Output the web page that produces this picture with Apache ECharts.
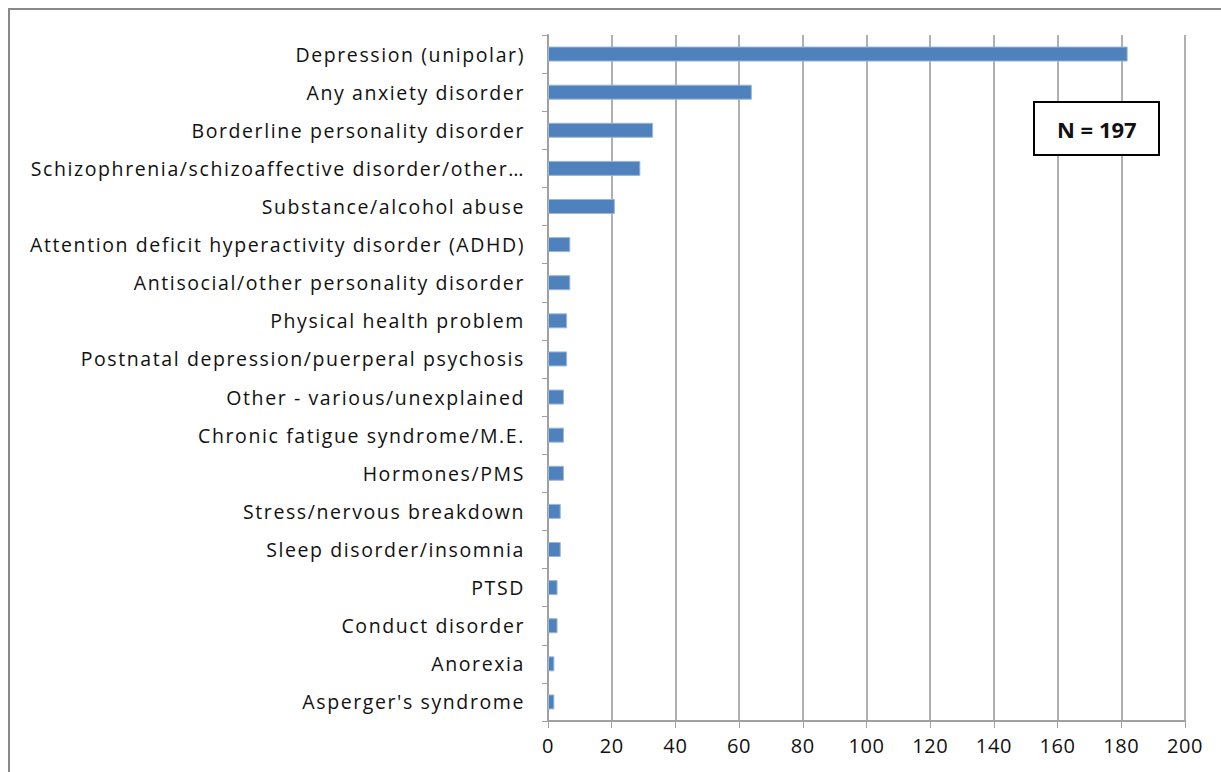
<!DOCTYPE html>
<html><head><meta charset="utf-8">
<script src="https://cdn.jsdelivr.net/npm/echarts@6/dist/echarts.min.js"></script>
<style>html,body{margin:0;padding:0;background:#fff}#c{width:1221px;height:772px}
#c text[text-anchor="end"]{letter-spacing:1.6px}
#c text[text-anchor="middle"]{letter-spacing:0.6px}
</style>
</head><body><div id="c"></div>
<script>
const categories = [
  "Depression (unipolar)",
  "Any anxiety disorder",
  "Borderline personality disorder",
  "Schizophrenia/schizoaffective disorder/other…",
  "Substance/alcohol abuse",
  "Attention deficit hyperactivity disorder (ADHD)",
  "Antisocial/other personality disorder",
  "Physical health problem",
  "Postnatal depression/puerperal psychosis",
  "Other - various/unexplained",
  "Chronic fatigue syndrome/M.E.",
  "Hormones/PMS",
  "Stress/nervous breakdown",
  "Sleep disorder/insomnia",
  "PTSD",
  "Conduct disorder",
  "Anorexia",
  "Asperger's syndrome"
];
const values = [182, 64, 33, 29, 21, 7, 7, 6, 6, 5, 5, 5, 4, 4, 3, 3, 2, 2];
const xTicks = { min: 0, max: 200, interval: 20 };
const noteText = "N = 197";

const chart = echarts.init(document.getElementById('c'), null, {renderer: 'svg'});
const font = "'Open Sans', 'Noto Sans', sans-serif";
chart.setOption({
  animation: false,
  backgroundColor: '#fff',
  grid: { left: 548, right: 36, top: 35, bottom: 51, containLabel: false },
  xAxis: {
    type: 'value', min: xTicks.min, max: xTicks.max, interval: xTicks.interval,
    axisLine: { show: true, lineStyle: { color: '#a0a0a0', width: 2 } },
    axisTick: { show: true, length: 7, lineStyle: { color: '#a0a0a0', width: 1 } },
    splitLine: { show: true, lineStyle: { color: '#b0b0b0', width: 2 } },
    axisLabel: { color: '#111', fontSize: 20, fontFamily: font, margin: 14 }
  },
  yAxis: {
    type: 'category', data: categories, inverse: true,
    axisLine: { show: true, lineStyle: { color: '#a0a0a0', width: 2 } },
    axisTick: { show: true, length: 6, lineStyle: { color: '#a0a0a0', width: 1 } },
    axisLabel: { color: '#111', fontSize: 19.5, fontFamily: font, margin: 23 }
  },
  series: [{
    type: 'bar', data: values, barWidth: 15,
    itemStyle: { color: '#4f81bd', borderColor: '#9ab6d8', borderWidth: 1 }
  }],
  graphic: [
    { type: 'rect', shape: { x: 9, y: 9, width: 1240, height: 800 },
      style: { fill: 'none', stroke: '#888', lineWidth: 2 }, silent: true, z: 100 },
    { type: 'rect', shape: { x: 1034, y: 102, width: 125, height: 53 },
      style: { fill: '#fff', stroke: '#000', lineWidth: 2 }, z: 100 },
    { type: 'text', x: 1057, y: 128.5, z: 101,
      style: { text: noteText, fill: '#111', font: "bold 22px " + font, align: 'left', verticalAlign: 'middle' } }
  ]
});
</script></body></html>
